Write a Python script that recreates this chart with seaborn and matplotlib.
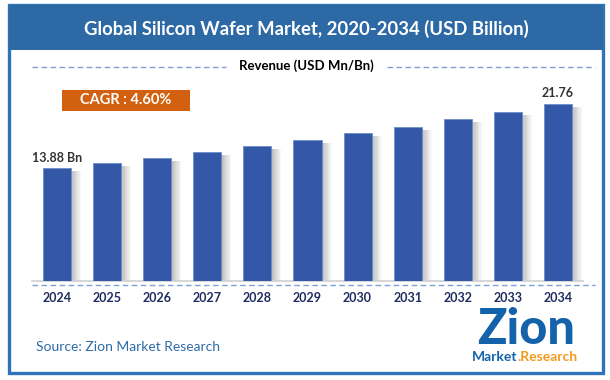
import matplotlib
matplotlib.use("Agg")
import matplotlib.pyplot as plt
import seaborn as sns
import pandas as pd
import numpy as np
from matplotlib.patches import Rectangle

# ---- data ----
years = ["2024", "2025", "2026", "2027", "2028", "2029", "2030", "2031", "2032", "2033", "2034"]
revenue = [13.88, 14.50, 15.11, 15.85, 16.59, 17.33, 18.19, 18.97, 19.95, 20.81, 21.76]
title = "Global Silicon Wafer Market, 2020-2034 (USD Billion)"
subtitle = "Revenue (USD Mn/Bn)"
cagr_text = "CAGR : 4.60%"
first_label = "13.88 Bn"
last_label = "21.76"
source = "Source: Zion Market Research"

df = pd.DataFrame({"year": years, "revenue": revenue})

sns.set_theme(style="white")
plt.rcParams['font.family'] = ['Lato', 'DejaVu Sans']

W, H = 610, 380
fig = plt.figure(figsize=(W / 100, H / 100), dpi=100)
fig.patch.set_facecolor("white")

def fx(px):
    return px / W

def fy(py):
    return 1 - py / H

BAR = "#3258A7"
FRAME = "#2F72B8"
TITLEBG = "#2C69A5"
NAVY = "#1F2C5E"

# frame and title bar
fig.patches.append(Rectangle((fx(9), fy(373)), fx(603) - fx(9), fy(5) - fy(373),
                             transform=fig.transFigure, fill=False, edgecolor=FRAME,
                             linewidth=2.4, zorder=0))
fig.patches.append(Rectangle((fx(9), fy(50)), fx(603) - fx(9), fy(5) - fy(50),
                             transform=fig.transFigure, facecolor=TITLEBG, edgecolor=TITLEBG,
                             linewidth=0, zorder=1))
fig.text(fx(306), fy(29), title, color="white", fontsize=13.3, fontweight="bold",
         ha="center", va="center", family=["Lato", "DejaVu Sans"])

# subtitle with dashed lines
fig.text(fx(306), fy(66), subtitle, color="black", fontsize=9.5, fontweight="bold",
         ha="center", va="center")
for x0, x1 in [(32, 226), (387, 595)]:
    fig.add_artist(plt.Line2D([fx(x0), fx(x1)], [fy(67), fy(67)], transform=fig.transFigure,
                              color="#7F9FD6", linewidth=1.0, linestyle=(0, (4, 2.5))))

# CAGR box
fig.patches.append(Rectangle((fx(62), fy(111)), fx(190) - fx(62), fy(90) - fy(111),
                             transform=fig.transFigure, facecolor="#D3600E", edgecolor="none",
                             zorder=1))
fig.text(fx(126), fy(100.5), cagr_text, color="white", fontsize=10.5, fontweight="bold",
         ha="center", va="center")

# axes for bars
ax_left, ax_right = 32, 583
base_y = 281
ymax = 25.0
ppu = 8.12
top_y = base_y - ymax * ppu
ax = fig.add_axes([fx(ax_left), fy(base_y), fx(ax_right) - fx(ax_left), fy(top_y) - fy(base_y)])
ax.set_facecolor("none")

bw = 0.56
# soft shadows to the right of bars
xs = np.arange(len(years))
vals = np.array(revenue)
nstrip = 8
for k in range(nstrip):
    a = 0.38 * (1 - k / nstrip)
    ax.bar(xs + bw / 2 + 0.025 * k + 0.0125, vals - 0.35, width=0.025, bottom=0,
           color="#555555", alpha=a, linewidth=0, zorder=1)

sns.barplot(data=df, x="year", y="revenue", order=years, color=BAR, width=bw,
            saturation=1, ax=ax, zorder=3, edgecolor="#6F8CCB", linewidth=0.6)

ax.set_xlim(-0.5, len(years) - 0.5)
ax.set_ylim(0, ymax)
ax.set_xlabel("")
ax.set_ylabel("")
ax.set_yticks([])
ax.tick_params(axis="x", length=0, pad=8, labelsize=9, labelcolor=NAVY)
for lbl in ax.get_xticklabels():
    lbl.set_fontweight("bold")
for s in ["top", "right", "left"]:
    ax.spines[s].set_visible(False)
ax.spines["bottom"].set_color("#D0D0D0")
ax.spines["bottom"].set_linewidth(1.2)

# dashed line under axis
fig.add_artist(plt.Line2D([fx(32), fx(595)], [fy(285), fy(285)], transform=fig.transFigure,
                          color="#7F9FD6", linewidth=1.0, linestyle=(0, (4, 2.5))))

# value labels
ax.text(0, revenue[0] + 1.25, first_label, ha="center", va="center", fontsize=9,
        fontweight="bold", color="#333333")
ax.text(len(years) - 1, revenue[-1] + 1.35, last_label, ha="center", va="center", fontsize=9,
        fontweight="bold", color="#333333")

# source
fig.text(fx(36), fy(347), source, color="#2E6BA8", fontsize=10, ha="left", va="center")

# logo (text based)
fig.text(fx(526), fy(330), "Zion", color="#1462AA", fontsize=35, fontweight="black",
         ha="center", va="center")
fig.text(fx(517), fy(357), "Market", color="#1462AA", fontsize=10, fontweight="bold",
         ha="right", va="center")
fig.text(fx(517), fy(357), ".Research", color="#F39A1E", fontsize=10, fontweight="bold",
         ha="left", va="center")

fig.savefig("out.png", dpi=100, facecolor="white")
